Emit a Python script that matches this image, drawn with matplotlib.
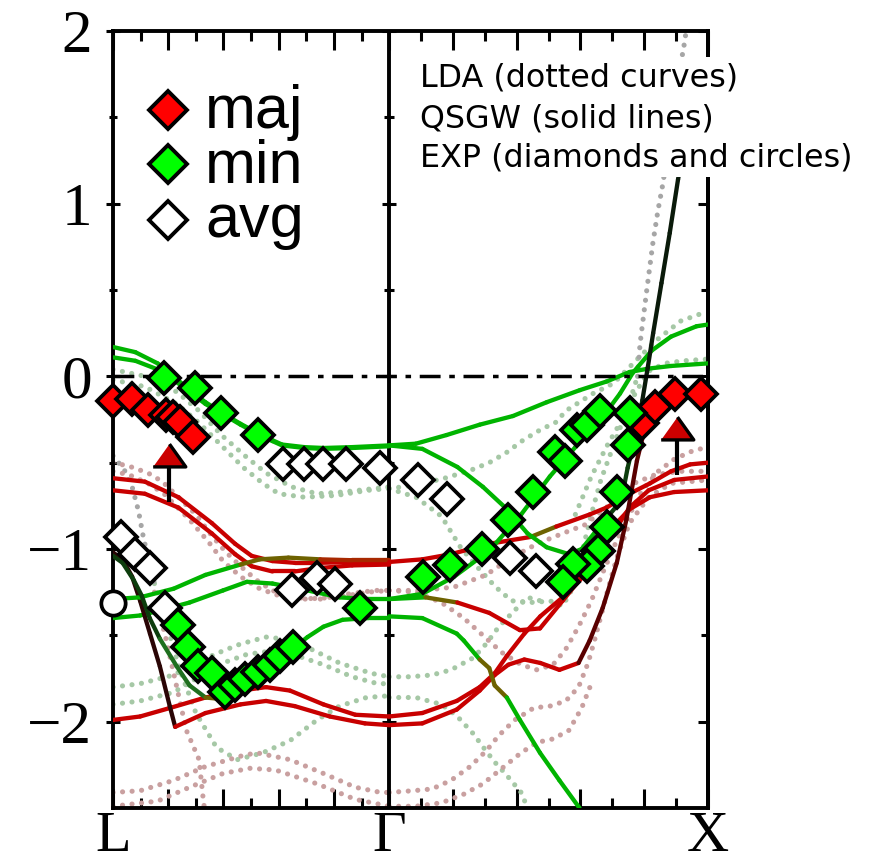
import numpy as np
import matplotlib
matplotlib.use("Agg")
import matplotlib.pyplot as plt
from matplotlib.collections import LineCollection
from matplotlib.patches import Rectangle

# ---------------- k-path and tick labels ----------------
K_L, K_G, K_X = 0.0, 0.866, 1.866
kpoint_labels = ["L", "Γ", "X"]
ytick_values = [-2, -1, 0, 1, 2]
ytick_labels = ["\u22122", "\u22121", "0", "1", "2"]
yminor_values = [-1.5, -0.5, 0.5, 1.5]

# ---------------- QSGW bands (solid lines): (k, E in eV) ----------------
qsgw_g1 = [(0, 0.17), (0.07, 0.14), (0.14, 0.075), (0.19, 0.0), (0.24, -0.08), (0.29, -0.15),
           (0.345, -0.215), (0.40, -0.275), (0.45, -0.325), (0.50, -0.37), (0.53, -0.395),
           (0.60, -0.41), (0.66, -0.415), (0.75, -0.41), (0.866, -0.40)]
qsgw_g2 = [(0, 0.11), (0.07, 0.09), (0.14, 0.04), (0.19, -0.02), (0.24, -0.09), (0.29, -0.16),
           (0.345, -0.22), (0.40, -0.28), (0.45, -0.33), (0.50, -0.375), (0.53, -0.40),
           (0.60, -0.415), (0.66, -0.42), (0.75, -0.415), (0.866, -0.405)]
qsgw_r1 = [(0, -0.59), (0.10, -0.61), (0.205, -0.70), (0.31, -0.85), (0.383, -0.97), (0.435, -1.04),
           (0.50, -1.07), (0.57, -1.08), (0.65, -1.08), (0.75, -1.075), (0.866, -1.07)]
qsgw_r2 = [(0, -0.66), (0.10, -0.68), (0.205, -0.76), (0.31, -0.91), (0.383, -1.03), (0.435, -1.10),
           (0.50, -1.13), (0.57, -1.13), (0.65, -1.11), (0.75, -1.095), (0.866, -1.09)]
qsgw_gm1 = [(0, -1.29), (0.085, -1.28), (0.19, -1.23), (0.29, -1.15), (0.40, -1.09), (0.46, -1.06),
            (0.55, -1.05), (0.65, -1.06), (0.75, -1.065), (0.866, -1.065)]
qsgw_gm2 = [(0, -1.40), (0.085, -1.385), (0.16, -1.35), (0.24, -1.31), (0.345, -1.24), (0.42, -1.19),
            (0.50, -1.20), (0.61, -1.24), (0.71, -1.28), (0.80, -1.29), (0.866, -1.29)]
qsgw_dg = [(0, -1.04), (0.03, -1.08), (0.065, -1.18), (0.09, -1.27), (0.115, -1.40), (0.147, -1.52),
           (0.20, -1.68), (0.24, -1.79), (0.29, -1.86), (0.345, -1.87), (0.40, -1.82), (0.45, -1.76),
           (0.50, -1.68), (0.555, -1.59), (0.61, -1.51), (0.66, -1.45), (0.72, -1.41), (0.80, -1.40),
           (0.866, -1.40)]
qsgw_dr = [(0, -1.02), (0.03, -1.06), (0.06, -1.16), (0.085, -1.30), (0.116, -1.49), (0.147, -1.68),
           (0.178, -1.91), (0.195, -2.03), (0.29, -1.95), (0.40, -1.90), (0.48, -1.88), (0.57, -1.91),
           (0.68, -1.97), (0.79, -2.01), (0.866, -2.02)]
qsgw_rl = [(0, -1.99), (0.085, -1.97), (0.18, -1.92), (0.29, -1.86), (0.40, -1.82), (0.48, -1.80),
           (0.555, -1.82), (0.66, -1.90), (0.76, -1.96), (0.866, -1.97)]
qsgw_ga = [(0.866, -0.40), (0.95, -0.39), (1.046, -0.34), (1.15, -0.28), (1.254, -0.23), (1.36, -0.15),
           (1.464, -0.08), (1.548, -0.03), (1.62, 0.025), (1.68, 0.045), (1.75, 0.06), (1.866, 0.075)]
qsgw_gb = [(0.866, -1.29), (0.97, -1.26), (1.07, -1.16), (1.18, -1.01), (1.28, -0.80), (1.37, -0.58),
           (1.45, -0.41), (1.53, -0.25), (1.59, -0.10), (1.63, 0.02), (1.69, 0.15), (1.75, 0.23),
           (1.83, 0.29), (1.866, 0.30)]
qsgw_gc = [(0.866, -0.40), (0.97, -0.42), (1.08, -0.525), (1.16, -0.64), (1.23, -0.76), (1.30, -0.91),
           (1.36, -0.99), (1.43, -1.03), (1.47, -1.00), (1.53, -0.86), (1.594, -0.72), (1.614, -0.53),
           (1.64, -0.33), (1.66, -0.14), (1.677, 0.05), (1.694, 0.25), (1.72, 0.54), (1.746, 0.83),
           (1.772, 1.14), (1.80, 1.42), (1.83, 1.58), (1.866, 1.63)]
qsgw_gd = [(0.866, -1.39), (0.97, -1.40), (1.078, -1.49), (1.10, -1.53), (1.15, -1.64), (1.18, -1.69),
           (1.197, -1.79), (1.235, -1.86), (1.276, -1.99), (1.339, -2.18), (1.40, -2.34), (1.463, -2.50)]
qsgw_ra = [(0.866, -1.075), (0.97, -1.06), (1.06, -1.03), (1.18, -0.97), (1.31, -0.93), (1.39, -0.87),
           (1.495, -0.80), (1.548, -0.76), (1.62, -0.68), (1.684, -0.62), (1.75, -0.55), (1.81, -0.51),
           (1.866, -0.50)]
qsgw_rdip = [(0.866, -1.29), (0.98, -1.28), (1.08, -1.31), (1.18, -1.37), (1.276, -1.47), (1.339, -1.46),
             (1.41, -1.30), (1.454, -1.20), (1.495, -1.07), (1.558, -0.89), (1.62, -0.77), (1.684, -0.70),
             (1.76, -0.67), (1.866, -0.66)]
qsgw_rb = [(0.866, -1.97), (0.97, -1.95), (1.078, -1.88), (1.15, -1.80), (1.197, -1.72), (1.235, -1.62),
           (1.29, -1.49), (1.34, -1.39), (1.41, -1.28), (1.464, -1.18), (1.517, -1.07), (1.56, -0.93),
           (1.62, -0.76), (1.68, -0.66), (1.76, -0.60), (1.866, -0.58)]
qsgw_rc = [(0.866, -2.02), (0.97, -2.01), (1.078, -1.93), (1.15, -1.82), (1.197, -1.73), (1.24, -1.67),
           (1.29, -1.64), (1.34, -1.66), (1.40, -1.70), (1.46, -1.66), (1.495, -1.53), (1.536, -1.34),
           (1.58, -1.08), (1.61, -0.83), (1.643, -0.49), (1.66, -0.36)]

# ---------------- LDA bands (dotted curves) ----------------
lda_g1 = [(0, 0.04), (0.1, 0.0), (0.2, -0.09), (0.27, -0.20), (0.34, -0.34), (0.42, -0.47), (0.48, -0.56),
          (0.56, -0.64), (0.64, -0.68), (0.72, -0.67), (0.82, -0.65), (0.866, -0.64)]
lda_g2 = [(0, -0.02), (0.1, -0.06), (0.2, -0.16), (0.27, -0.27), (0.345, -0.41), (0.41, -0.53),
          (0.47, -0.62), (0.52, -0.68), (0.60, -0.70), (0.70, -0.69), (0.80, -0.66), (0.866, -0.65)]
lda_g3 = [(0, -1.80), (0.085, -1.78), (0.19, -1.73), (0.27, -1.65), (0.345, -1.59), (0.40, -1.55),
          (0.48, -1.51), (0.53, -1.52), (0.61, -1.57), (0.71, -1.66), (0.81, -1.72), (0.866, -1.74)]
lda_g4 = [(0, -1.90), (0.085, -1.88), (0.19, -1.83), (0.27, -1.74), (0.345, -1.66), (0.42, -1.61),
          (0.50, -1.59), (0.58, -1.62), (0.66, -1.67), (0.75, -1.74), (0.83, -1.78), (0.866, -1.78)]
lda_g5 = [(0.13, -1.20), (0.17, -1.45), (0.21, -1.70), (0.26, -1.95), (0.325, -2.15), (0.39, -2.22),
          (0.47, -2.18), (0.555, -2.11), (0.64, -1.99), (0.71, -1.91), (0.795, -1.86), (0.866, -1.85)]
lda_gray_l = [(0, -0.46), (0.035, -0.54), (0.06, -0.64), (0.08, -0.78), (0.095, -0.93), (0.11, -1.05),
              (0.13, -1.20)]
lda_r1 = [(0, -0.50), (0.05, -0.52), (0.11, -0.56), (0.155, -0.61), (0.205, -0.70), (0.26, -0.80),
          (0.30, -0.90), (0.35, -1.01), (0.40, -1.10), (0.45, -1.18), (0.50, -1.24), (0.56, -1.28),
          (0.65, -1.29), (0.74, -1.26), (0.82, -1.24), (0.866, -1.24)]
lda_r2 = [(0, -0.55), (0.05, -0.57), (0.11, -0.62), (0.16, -0.68), (0.24, -0.83), (0.30, -0.96),
          (0.345, -1.07), (0.40, -1.16), (0.46, -1.23), (0.52, -1.27), (0.60, -1.29), (0.70, -1.28),
          (0.80, -1.25), (0.866, -1.24)]
lda_r_steep = [(0.13, -1.25), (0.17, -1.55), (0.20, -1.80), (0.23, -2.05), (0.27, -2.22), (0.283, -2.45),
               (0.29, -2.55)]
lda_r3 = [(0, -2.41), (0.085, -2.40), (0.19, -2.34), (0.29, -2.26), (0.40, -2.20), (0.45, -2.18),
          (0.555, -2.22), (0.66, -2.30), (0.76, -2.38), (0.84, -2.41), (0.866, -2.41)]
lda_r4 = [(0, -2.49), (0.14, -2.46), (0.24, -2.38), (0.345, -2.30), (0.43, -2.27), (0.51, -2.28),
          (0.64, -2.36), (0.76, -2.45), (0.866, -2.49)]
lda_ga = [(0.866, -0.65), (0.95, -0.63), (1.04, -0.59), (1.12, -0.545), (1.18, -0.50), (1.235, -0.44),
          (1.286, -0.37), (1.34, -0.31), (1.39, -0.265), (1.42, -0.20), (1.505, -0.10), (1.57, -0.04),
          (1.65, 0.11), (1.705, 0.21), (1.78, 0.32), (1.84, 0.36), (1.866, 0.36)]
lda_gb = [(0.866, -0.65), (0.95, -0.70), (1.03, -0.81), (1.05, -0.87), (1.09, -0.99), (1.15, -1.12),
          (1.20, -1.22), (1.25, -1.30), (1.32, -1.31), (1.37, -1.30), (1.41, -1.33), (1.45, -1.20),
          (1.48, -0.95), (1.50, -0.80), (1.53, -0.60), (1.56, -0.45), (1.59, -0.30), (1.62, -0.15),
          (1.645, 0.0)]
lda_gray_x = [(1.645, 0.0), (1.653, 0.19), (1.674, 0.50), (1.693, 0.77), (1.709, 0.96), (1.725, 1.12),
              (1.75, 1.45), (1.775, 1.75), (1.794, 1.95), (1.80, 2.05)]
lda_gc = [(1.45, -0.80), (1.50, -0.58), (1.55, -0.40), (1.60, -0.24), (1.64, -0.09), (1.68, 0.03),
          (1.73, 0.075), (1.79, 0.09), (1.866, 0.10)]
lda_gd = [(0.866, -1.74), (0.93, -1.74), (1.0, -1.73), (1.06, -1.70), (1.13, -1.63), (1.17, -1.55),
          (1.21, -1.45), (1.26, -1.355), (1.30, -1.28), (1.34, -1.30)]
lda_ge = [(0.866, -1.86), (0.95, -1.86), (1.03, -1.90), (1.08, -1.97), (1.13, -2.07), (1.17, -2.17),
          (1.20, -2.24), (1.23, -2.30), (1.28, -2.41), (1.30, -2.50)]
lda_ra = [(0.866, -1.24), (0.95, -1.25), (1.03, -1.31), (1.10, -1.40), (1.16, -1.50), (1.22, -1.60),
          (1.28, -1.67), (1.33, -1.70), (1.38, -1.67), (1.42, -1.58), (1.46, -1.45), (1.50, -1.30),
          (1.54, -1.12), (1.58, -0.95), (1.62, -0.80), (1.66, -0.66), (1.71, -0.55), (1.76, -0.48),
          (1.82, -0.43), (1.866, -0.41)]
lda_re = [(0.866, -1.24), (0.97, -1.24), (1.07, -1.22), (1.17, -1.15), (1.25, -1.05), (1.33, -0.97),
          (1.41, -0.91), (1.48, -0.86), (1.56, -0.74), (1.62, -0.63), (1.70, -0.57), (1.78, -0.55),
          (1.866, -0.55)]
lda_rc = [(0.866, -2.41), (0.94, -2.40), (1.0, -2.39), (1.06, -2.34), (1.12, -2.26), (1.17, -2.17),
          (1.21, -2.08), (1.26, -1.99), (1.32, -1.92), (1.37, -1.91), (1.42, -1.88), (1.46, -1.80),
          (1.49, -1.66), (1.51, -1.53), (1.53, -1.39), (1.55, -1.25), (1.58, -1.05), (1.62, -0.85),
          (1.68, -0.70), (1.75, -0.62), (1.866, -0.60)]
lda_rd = [(0.866, -2.49), (0.95, -2.49), (1.03, -2.47), (1.10, -2.42), (1.16, -2.36), (1.22, -2.27),
          (1.28, -2.18), (1.33, -2.12), (1.38, -2.10), (1.43, -2.05), (1.47, -1.92), (1.50, -1.78)]

# ---------------- experiment ----------------
maj_x = [0.0, 0.059, 0.111, 0.166, 0.189, 0.21, 0.252, 1.66, 1.70, 1.762, 1.845]
maj_y = [-0.14, -0.133, -0.197, -0.226, -0.236, -0.265, -0.35, -0.27, -0.18, -0.104, -0.104]
min_x = [0.16, 0.257, 0.34, 0.455, 0.205, 0.236, 0.267, 0.31, 0.351, 0.382, 0.414, 0.455, 0.492, 0.523,
         0.565, 0.774, 0.973, 1.057, 1.156, 1.24, 1.318, 1.386, 1.417, 1.454, 1.485, 1.527, 1.62, 1.615,
         1.58, 1.548, 1.522, 1.485, 1.443, 1.412]
min_y = [-0.01, -0.07, -0.21, -0.34, -1.44, -1.57, -1.68, -1.72, -1.83, -1.79, -1.75, -1.71, -1.67, -1.62,
         -1.57, -1.34, -1.16, -1.09, -1.0, -0.83, -0.67, -0.44, -0.49, -0.31, -0.28, -0.20, -0.21, -0.40,
         -0.67, -0.87, -1.01, -1.10, -1.085, -1.19]
avg_x = [0.534, 0.60, 0.66, 0.73, 0.837, 0.024, 0.069, 0.116, 0.163, 0.56, 0.64, 0.696, 0.957, 1.046,
         1.245, 1.328]
avg_y = [-0.51, -0.51, -0.51, -0.51, -0.53, -0.93, -1.03, -1.11, -1.34, -1.24, -1.17, -1.20, -0.60, -0.71,
         -1.05, -1.13]
circle_x = [0.0]
circle_y = [-1.31]
arrow_x = [0.175, 1.77]
arrow_head_y = [-0.455, -0.30]
arrow_tail_y = [-0.73, -0.57]

legend_labels = ["maj", "min", "avg"]
info_lines = ["LDA (dotted curves)", "QSGW (solid lines)", "EXP (diamonds and circles)"]

# ---------------- styles ----------------
GREEN = "#00b400"
RED = "#c80000"
DKGREEN = "#0d3d0d"
MIDGREEN = "#1f6f1f"
BLACKISH = "#0a1a0a"
DKRED = "#5a0000"
DKRED2 = "#2a0505"
OLIVE = "#6e6200"
BROWN = "#a82800"
LDA_GREEN = "#a6c8a6"
LDA_ROSE = "#c9a0a0"
LDA_GRAY = "#a6a6a6"

qsgw_styles = [
    (qsgw_gm2, [(9, GREEN)]), (qsgw_rl, [(9, RED)]), (qsgw_dr, [(0.2, DKRED2), (9, RED)]),
    (qsgw_r1, [(9, RED)]), (qsgw_r2, [(9, RED)]),
    (qsgw_gm1, [(0.42, GREEN), (0.62, OLIVE), (9, BROWN)]),
    (qsgw_dg, [(0.16, DKGREEN), (0.27, MIDGREEN), (0.36, OLIVE), (9, GREEN)]),
    (qsgw_g1, [(9, GREEN)]), (qsgw_g2, [(9, GREEN)]),
    (qsgw_rb, [(9, RED)]), (qsgw_ra, [(1.33, RED), (1.37, OLIVE), (9, RED)]),
    (qsgw_rdip, [(0.99, GREEN), (1.09, OLIVE), (9, RED)]),
    (qsgw_rc, [(1.47, RED), (9, DKRED)]),
    (qsgw_gd, [(1.16, GREEN), (1.22, OLIVE), (9, GREEN)]),
    (qsgw_ga, [(9, GREEN)]), (qsgw_gb, [(9, GREEN)]),
    (qsgw_gc, [(1.50, GREEN), (1.665, DKGREEN), (9, BLACKISH)]),
]
lda_styles = [
    (lda_g1, LDA_GREEN), (lda_g2, LDA_GREEN), (lda_g3, LDA_GREEN), (lda_g4, LDA_GREEN),
    (lda_g5, LDA_GREEN), (lda_gray_l, LDA_GRAY), (lda_r1, LDA_ROSE), (lda_r2, LDA_ROSE),
    (lda_r_steep, LDA_ROSE), (lda_r3, LDA_ROSE), (lda_r4, LDA_ROSE),
    (lda_ga, LDA_GREEN), (lda_gb, LDA_GREEN), (lda_gray_x, LDA_GRAY), (lda_gc, LDA_GREEN),
    (lda_gd, LDA_GREEN), (lda_ge, LDA_GREEN), (lda_ra, LDA_ROSE), (lda_re, LDA_ROSE),
    (lda_rc, LDA_ROSE), (lda_rd, LDA_ROSE),
]

SERIF = ["Liberation Serif", "DejaVu Serif"]
SANS = ["Liberation Sans", "DejaVu Sans"]

fig = plt.figure(figsize=(8.72, 8.65), dpi=100)
ax = fig.add_axes([113 / 872, 1 - 808 / 865, 595 / 872, 777 / 865])
ax.set_xlim(K_L, K_X)
ax.set_ylim(-2.5, 2.0)

# LDA dotted curves
for pts, col in lda_styles:
    a = np.array(pts)
    ax.plot(a[:, 0], a[:, 1], color=col, lw=3.7, ls=(0, (0.01, 1.85)),
            dash_capstyle="round", zorder=2)


def seg_colors(a, stops):
    xm = 0.5 * (a[:-1, 0] + a[1:, 0])
    out = []
    for xv in xm:
        for xmax, c in stops:
            if xv <= xmax:
                out.append(c)
                break
    return out


for pts, stops in qsgw_styles:
    a = np.array(pts)
    segs = np.stack([a[:-1], a[1:]], axis=1)
    lc = LineCollection(segs, colors=seg_colors(a, stops), linewidths=3.1,
                        capstyle="round", joinstyle="round", zorder=3)
    ax.add_collection(lc)

# Fermi level and Gamma line
ax.axhline(0, color="k", lw=2.5, dashes=(6.0, 2.5, 1.6, 2.5), zorder=3.5)
ax.axvline(K_G, color="k", lw=2.8, zorder=2.6)
ax.plot([K_G] * len(ytick_values), ytick_values, ls="none", marker="_", ms=10.5, mew=2.2,
        color="k", zorder=2.6)
ax.plot([K_G] * len(yminor_values), yminor_values, ls="none", marker="_", ms=7.5, mew=2.2,
        color="k", zorder=2.6)

# experiment markers
DMS = 16.0
ax.plot(avg_x, avg_y, ls="none", marker="D", ms=DMS, mfc="white", mec="k", mew=2.7,
        zorder=4, clip_on=False)
ax.plot(maj_x, maj_y, ls="none", marker="D", ms=DMS, mfc="#ff0000", mec="k", mew=2.7,
        zorder=4.2, clip_on=False)
ax.plot(min_x, min_y, ls="none", marker="D", ms=DMS, mfc="#00ff00", mec="k", mew=2.7,
        zorder=4.4, clip_on=False)
ax.plot(circle_x, circle_y, ls="none", marker="o", ms=17.5, mfc="white", mec="k", mew=2.7,
        zorder=4.4, clip_on=False)

tri = [(-1, -0.7), (1, -0.7), (0, 0.7)]
for xa, yh, yt in zip(arrow_x, arrow_head_y, arrow_tail_y):
    ax.plot([xa, xa], [yt, yh], color="k", lw=3.0, zorder=4.5, solid_capstyle="butt")
ax.plot(arrow_x, arrow_head_y, ls="none", marker=tri, ms=23.5, mfc="#cc0000", mec="k", mew=2.4,
        zorder=4.6, clip_on=False)

# legend (manual)
leg_marker_y = [0.898, 0.829, 0.757]
leg_text_y = [0.875, 0.805, 0.735]
leg_faces = ["#ff0000", "#00ff00", "white"]
for lab, my, ty, fc in zip(legend_labels, leg_marker_y, leg_text_y, leg_faces):
    ax.plot([0.0924], [my], transform=ax.transAxes, ls="none", marker="D", ms=19, mfc=fc,
            mec="k", mew=2.8, zorder=6, clip_on=False)
    ax.text(0.155, ty, lab, transform=ax.transAxes, fontsize=44, family=SANS, va="baseline",
            ha="left", zorder=6)

# info text with white background
ax.add_patch(Rectangle((0.505, 0.812), 0.76, 0.1545, transform=ax.transAxes, facecolor="white",
                       edgecolor="none", zorder=6, clip_on=False))
for line, ty in zip(info_lines, [0.928, 0.876, 0.825]):
    ax.text(0.516, ty, line, transform=ax.transAxes, fontsize=22.9, family="DejaVu Sans",
            va="baseline", ha="left", zorder=7, clip_on=False)

# ticks
long_ticks = [K_G * k / 10 for k in (2, 4, 6, 8)] + [K_G + 0.1 * k for k in (2, 4, 6, 8)]
short_ticks = [K_G * k / 10 for k in (1, 3, 5, 7, 9)] + [K_G + 0.1 * k for k in (1, 3, 5, 7, 9)]
ax.set_xticks([K_L, K_G, K_X] + long_ticks, labels=kpoint_labels + [""] * len(long_ticks))
ax.set_xticks(short_ticks, minor=True)
ax.tick_params(axis="x", which="major", direction="in", length=13.7, width=2.2, top=True,
               bottom=True, pad=2, labelsize=42)
ax.tick_params(axis="x", which="minor", direction="in", length=7.2, width=2.2, top=True, bottom=True)

ax.set_yticks(ytick_values, labels=ytick_labels)
ax.set_yticks(yminor_values, minor=True)
ax.tick_params(axis="y", which="major", direction="inout", length=10, width=2.2, left=True,
               right=False, pad=10, labelsize=44)
ax.tick_params(axis="y", which="minor", direction="inout", length=6, width=2.2, left=True, right=False)
for lbl in ax.get_xticklabels() + ax.get_yticklabels():
    lbl.set_fontfamily(SERIF)

sec = ax.secondary_yaxis("right")
sec.set_yticks(ytick_values)
sec.set_yticks(yminor_values, minor=True)
sec.tick_params(axis="y", which="major", direction="in", length=7.5, width=2.2, labelright=False)
sec.tick_params(axis="y", which="minor", direction="in", length=5, width=2.2, labelright=False)
sec.spines["right"].set_linewidth(2.8)

for sp in ax.spines.values():
    sp.set_linewidth(2.8)

fig.savefig("out.png", dpi=100)
